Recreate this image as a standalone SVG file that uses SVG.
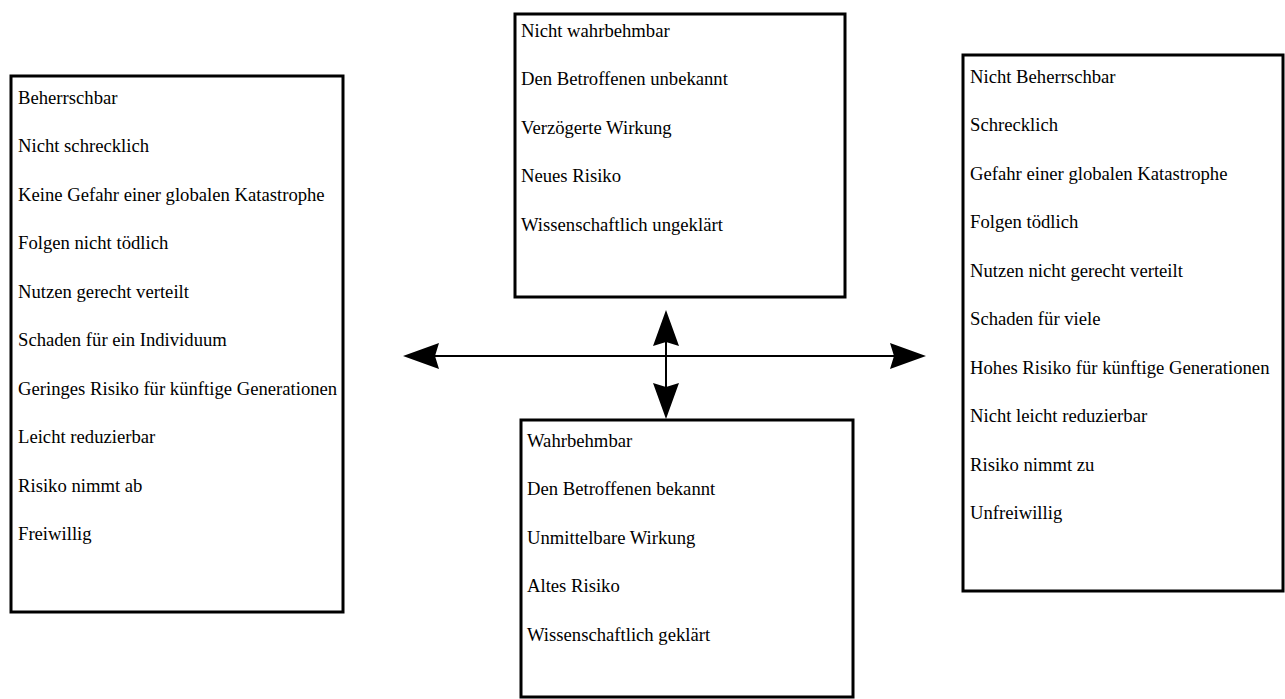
<svg xmlns="http://www.w3.org/2000/svg" width="1285" height="699" viewBox="0 0 1285 699">
<style>
.box{fill:#fff;stroke:#000;stroke-width:3}
.t{font-family:"Liberation Serif","Times New Roman",serif;font-size:18.67px;fill:#000}
.ln{stroke:#000;stroke-width:2;fill:none}
.ah{fill:#000;stroke:none}
</style>
<rect width="1285" height="699" fill="#fff"/>
<g id="node-left">
<rect class="box" x="11" y="76" width="332" height="536"/>
<text class="t" x="18" y="103.5">Beherrschbar</text>
<text class="t" x="18" y="152">Nicht schrecklich</text>
<text class="t" x="18" y="200.5">Keine Gefahr einer globalen Katastrophe</text>
<text class="t" x="18" y="249">Folgen nicht tödlich</text>
<text class="t" x="18" y="297.5">Nutzen gerecht verteilt</text>
<text class="t" x="18" y="346">Schaden für ein Individuum</text>
<text class="t" x="18" y="394.5">Geringes Risiko für künftige Generationen</text>
<text class="t" x="18" y="443">Leicht reduzierbar</text>
<text class="t" x="18" y="491.5">Risiko nimmt ab</text>
<text class="t" x="18" y="540">Freiwillig</text>
</g>
<g id="node-top">
<rect class="box" x="515" y="14" width="330" height="283"/>
<text class="t" x="521" y="36.5">Nicht wahrbehmbar</text>
<text class="t" x="521" y="85">Den Betroffenen unbekannt</text>
<text class="t" x="521" y="133.5">Verzögerte Wirkung</text>
<text class="t" x="521" y="182">Neues Risiko</text>
<text class="t" x="521" y="230.5">Wissenschaftlich ungeklärt</text>
</g>
<g id="node-bottom">
<rect class="box" x="521" y="420" width="332" height="277"/>
<text class="t" x="527" y="446.5">Wahrbehmbar</text>
<text class="t" x="527" y="495">Den Betroffenen bekannt</text>
<text class="t" x="527" y="543.5">Unmittelbare Wirkung</text>
<text class="t" x="527" y="592">Altes Risiko</text>
<text class="t" x="527" y="640.5">Wissenschaftlich geklärt</text>
</g>
<g id="node-right">
<rect class="box" x="963" y="55" width="320" height="536"/>
<text class="t" x="970" y="82.5">Nicht Beherrschbar</text>
<text class="t" x="970" y="131">Schrecklich</text>
<text class="t" x="970" y="179.5">Gefahr einer globalen Katastrophe</text>
<text class="t" x="970" y="228">Folgen tödlich</text>
<text class="t" x="970" y="276.5">Nutzen nicht gerecht verteilt</text>
<text class="t" x="970" y="325">Schaden für viele</text>
<text class="t" x="970" y="373.5">Hohes Risiko für künftige Generationen</text>
<text class="t" x="970" y="422">Nicht leicht reduzierbar</text>
<text class="t" x="970" y="470.5">Risiko nimmt zu</text>
<text class="t" x="970" y="519">Unfreiwillig</text>
</g>
<g id="connectors">
<line class="ln" x1="432" y1="356" x2="897" y2="356"/>
<polygon class="ah" points="403,356 439,343 435,356 439,369"/>
<polygon class="ah" points="926,356 890,343 894,356 890,369"/>
<line class="ln" x1="666" y1="339" x2="666" y2="390"/>
<polygon class="ah" points="666,310 653,346 666,342 679,346"/>
<polygon class="ah" points="666,419 653,383 666,387 679,383"/>
</g>
</svg>
